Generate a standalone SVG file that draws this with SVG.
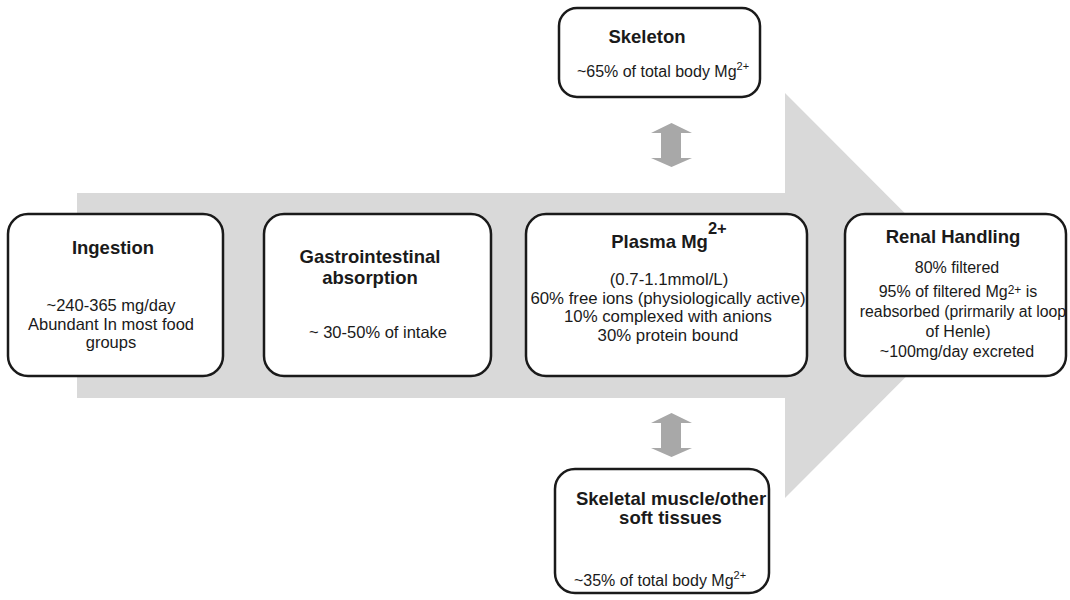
<svg xmlns="http://www.w3.org/2000/svg" width="1070" height="600" viewBox="0 0 1070 600">
<style>
.box{fill:#fff;stroke:#1a1a1a;stroke-width:2.5}
.t{font-family:"Liberation Sans",Arial,sans-serif;font-weight:bold;font-size:18.5px;fill:#1a1a1a;text-anchor:middle}
.b{font-family:"Liberation Sans",Arial,sans-serif;font-size:16px;fill:#1a1a1a;text-anchor:middle}
.dbl{fill:#a8a8a8}
</style>
<g id="flow-arrow">
<polygon points="77,193 785,193 785,93 987,295.5 785,498 785,398 77,398" fill="#d9d9d9"/>
</g>
<g id="connectors">
<path class="dbl" d="M671.5,123 L692,133 L681,133 L681,158 L692,158 L671.5,167 L651,158 L661,158 L661,133 L651,133 Z"/>
<path class="dbl" d="M671.5,413 L692,423 L681,423 L681,448 L692,448 L671.5,457 L651,448 L661,448 L661,423 L651,423 Z"/>
</g>
<g id="ingestion">
<rect class="box" x="8" y="214" width="215" height="162" rx="20"/>
<text class="t" x="113" y="254">Ingestion</text>
<text class="b" x="111" y="311" style="font-size:16.5px">~240-365 mg/day</text>
<text class="b" x="111" y="329.5" style="font-size:16.5px">Abundant In most food</text>
<text class="b" x="111" y="348" style="font-size:16.5px">groups</text>
</g>
<g id="gi">
<rect class="box" x="264" y="214" width="227" height="162" rx="20"/>
<text class="t" x="370" y="263">Gastrointestinal</text>
<text class="t" x="370" y="284">absorption</text>
<text class="b" x="378" y="338" style="font-size:16.5px">~ 30-50% of intake</text>
</g>
<g id="plasma">
<rect class="box" x="526" y="214" width="281" height="162" rx="20"/>
<text class="t" x="669" y="248">Plasma Mg<tspan dy="-14" style="font-size:16.5px">2+</tspan></text>
<text class="b" x="669" y="285" style="font-size:16.8px">(0.7-1.1mmol/L)</text>
<text class="b" x="668" y="303.5" style="font-size:16.8px">60% free ions (physiologically active)</text>
<text class="b" x="668" y="322" style="font-size:16.8px">10% complexed with anions</text>
<text class="b" x="668" y="341" style="font-size:16.8px">30% protein bound</text>
</g>
<g id="renal">
<rect class="box" x="845" y="214" width="221" height="162" rx="20"/>
<text class="t" x="953" y="243">Renal Handling</text>
<text class="b" x="957" y="273">80% filtered</text>
<text class="b" x="958" y="297">95% of filtered Mg<tspan dy="-3" style="font-size:12px">2+</tspan><tspan dy="3"> is</tspan></text>
<text class="b" x="963" y="317" style="font-size:15.8px">reabsorbed (prirmarily at loop</text>
<text class="b" x="958" y="337">of Henle)</text>
<text class="b" x="957" y="357">~100mg/day excreted</text>
</g>
<g id="skeleton">
<rect class="box" x="559" y="8" width="201" height="89" rx="18"/>
<text class="t" x="647" y="43">Skeleton</text>
<text class="b" x="663" y="77">~65% of total body Mg<tspan dy="-7" style="font-size:11px">2+</tspan></text>
</g>
<g id="muscle">
<rect class="box" x="555" y="469" width="214" height="124" rx="20"/>
<text class="t" x="671" y="505">Skeletal muscle/other</text>
<text class="t" x="670.5" y="524">soft tissues</text>
<text class="b" x="660" y="586">~35% of total body Mg<tspan dy="-7" style="font-size:11px">2+</tspan></text>
</g>
</svg>
